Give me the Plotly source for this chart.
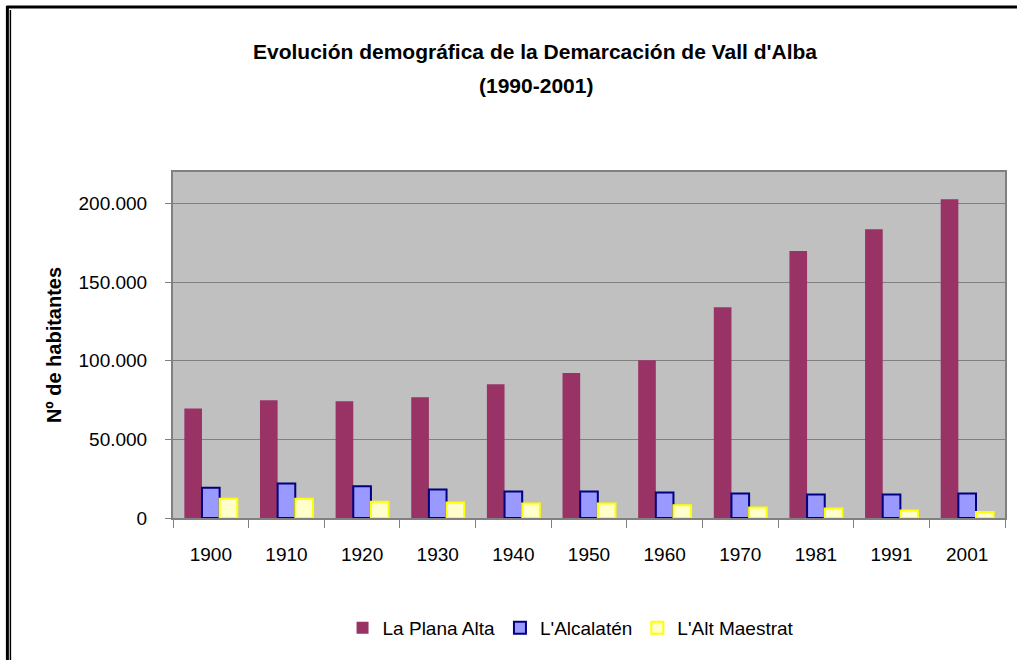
import plotly.graph_objects as go

years = ["1900", "1910", "1920", "1930", "1940", "1950", "1960", "1970", "1981", "1991", "2001"]
plana_alta = [69600, 74900, 74200, 76800, 85000, 92200, 100300, 134000, 169700, 183600, 202700]
alcalaten = [19300, 21900, 20200, 18100, 16800, 16800, 16200, 15500, 14900, 14900, 15500]
alt_maestrat = [12300, 12300, 10400, 9800, 9200, 9200, 8100, 6600, 6000, 4700, 3800]

series_names = ["La Plana Alta", "L'Alcalatén", "L'Alt Maestrat"]
title_line1 = "Evolución demográfica de la Demarcación de Vall d'Alba"
title_line2 = "(1990-2001)"
y_title = "Nº de habitantes"

W, H = 1019, 660
L, R, T, B = 173, 12, 172, 142
pw, ph = W - L - R, H - T - B

def px_x(px):
    return (px - L) / pw

def px_y(py):
    return (H - B - py) / ph

base_font = "Liberation Sans, Arial, sans-serif"
title_font = "Liberation Sans Narrow, Arial Narrow, Liberation Sans, Arial"

fig = go.Figure()
fig.add_trace(go.Bar(x=years, y=plana_alta, name=series_names[0],
                     marker=dict(color="#993366", line=dict(width=0))))
fig.add_trace(go.Bar(x=years, y=alcalaten, name=series_names[1],
                     marker=dict(color="#9999FF", line=dict(color="#000080", width=2))))
fig.add_trace(go.Bar(x=years, y=alt_maestrat, name=series_names[2],
                     marker=dict(color="#FFFFCC", line=dict(color="#FFFF00", width=2))))

fig.update_layout(
    width=W, height=H,
    margin=dict(l=L, r=R, t=T, b=B, pad=0),
    paper_bgcolor="white",
    plot_bgcolor="#C0C0C0",
    barmode="group",
    bargap=0.3,
    bargroupgap=0,
    separators=",.",
    font=dict(family=base_font, size=19, color="black"),
    showlegend=True,
    legend=dict(orientation="h", x=px_x(572), xanchor="center",
                y=px_y(628), yanchor="middle",
                font=dict(family=base_font, size=19, color="black"),
                bgcolor="rgba(0,0,0,0)", itemwidth=30, tracegroupgap=0),
    xaxis=dict(
        type="category",
        showgrid=False,
        showline=True, linecolor="#808080", linewidth=2, mirror=True,
        ticks="outside", ticklen=8, tickcolor="#808080", tickwidth=1,
        tickson="boundaries",
        ticklabelstandoff=18,
        tickfont=dict(family=base_font, size=19, color="black"),
    ),
    yaxis=dict(
        range=[0, 220000],
        dtick=50000,
        tickformat=",d",
        showgrid=True, gridcolor="#808080", gridwidth=1,
        zeroline=False,
        showline=True, linecolor="#808080", linewidth=2, mirror=True,
        ticks="outside", ticklen=6, tickcolor="#808080",
        ticklabelstandoff=14,
        tickfont=dict(family=base_font, size=19, color="black"),
        title=dict(text="<b>" + y_title + "</b>", standoff=12,
                   font=dict(family=base_font, size=20, color="black")),
    ),
    annotations=[
        dict(text="<b>" + title_line1 + "</b>", xref="paper", yref="paper",
             x=px_x(536), y=px_y(52), xanchor="center", yanchor="middle",
             showarrow=False,
             font=dict(family=title_font, size=21, color="black")),
        dict(text="<b>" + title_line2 + "</b>", xref="paper", yref="paper",
             x=px_x(537), y=px_y(85), xanchor="center", yanchor="middle",
             showarrow=False,
             font=dict(family=title_font, size=21, color="black")),
    ],
    shapes=[
        dict(type="line", xref="paper", yref="paper", x0=px_x(6), x1=px_x(1019),
             y0=px_y(7), y1=px_y(7), line=dict(color="black", width=3)),
        dict(type="line", xref="paper", yref="paper", x0=px_x(7), x1=px_x(7),
             y0=px_y(6), y1=px_y(660), line=dict(color="black", width=3)),
        dict(type="line", xref="paper", yref="paper", x0=px_x(10), x1=px_x(10),
             y0=px_y(10), y1=px_y(660), line=dict(color="black", width=1.5)),
    ],
)

fig.write_html("out.html",
               config={"displayModeBar": False},
               post_script="document.body.style.margin='0px';document.body.style.overflow='hidden';")
